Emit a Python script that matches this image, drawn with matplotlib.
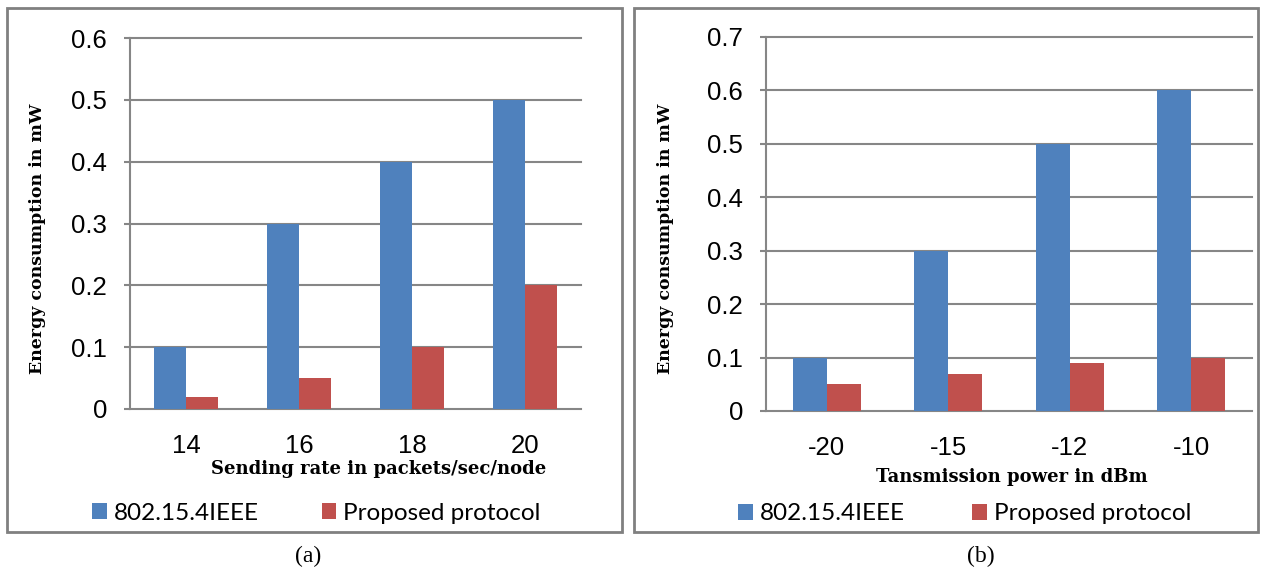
import matplotlib
matplotlib.use("Agg")
import matplotlib.pyplot as plt
import matplotlib.patches as patches
import numpy as np

# data
rate_labels = ["14", "16", "18", "20"]
rate_ieee = [0.1, 0.3, 0.4, 0.5]
rate_proposed = [0.02, 0.05, 0.1, 0.2]

power_labels = ["-20", "-15", "-12", "-10"]
power_ieee = [0.1, 0.3, 0.5, 0.6]
power_proposed = [0.05, 0.07, 0.09, 0.1]

series_names = ["802.15.4IEEE", "Proposed protocol"]
blue = "#4F81BD"
red = "#C0504D"
grid_col = "#868686"

W, H = 1265, 569
fig = plt.figure(figsize=(W / 100, H / 100), dpi=100)
fig.patch.set_facecolor("white")


def px(x, y):
    return x / W, 1 - y / H


def make_panel(rect, labels, ieee, proposed, ymax, width, xlabel, xlab_pos, ylab_pos,
               leg_pos, colspace, caption, cap_pos, box):
    ax = fig.add_axes(rect)
    x = np.arange(len(labels))
    b1 = ax.bar(x - width / 2, ieee, width, color=blue, label=series_names[0])
    b2 = ax.bar(x + width / 2, proposed, width, color=red, label=series_names[1])
    ax.set_xlim(-0.5, len(labels) - 0.5)
    ax.set_ylim(0, ymax)
    ticks = np.round(np.arange(0, ymax + 0.05, 0.1), 1)
    ax.set_yticks(ticks)
    ax.set_yticklabels(["0"] + [f"{v:.1f}" for v in ticks[1:]])
    ax.set_xticks(x)
    ax.set_xticklabels(labels)
    for s in ["top", "right", "bottom"]:
        ax.spines[s].set_visible(False)
    ax.spines["left"].set_color(grid_col)
    ax.spines["left"].set_linewidth(1.5)
    ax.yaxis.grid(True, color=grid_col, linewidth=1.5)
    ax.set_axisbelow(True)
    for gl in ax.get_ygridlines():
        gl.set_clip_on(False)
    ax.tick_params(axis="y", length=4.5, width=1.5, color=grid_col, pad=12,
                   labelsize=18.5)
    ax.tick_params(axis="x", length=0, pad=18, labelsize=18.5)
    for t in ax.get_xticklabels() + ax.get_yticklabels():
        t.set_fontfamily("Liberation Sans")

    fig.text(*px(*xlab_pos), xlabel, ha="center", va="center", fontsize=13,
             fontweight="bold", family="DejaVu Serif")
    fig.text(*px(*ylab_pos), "Energy consumption in mW", ha="center", va="center",
             rotation=90, fontsize=12.5, fontweight="bold", family="DejaVu Serif")
    fig.legend(handles=[b1, b2], loc="center left", bbox_to_anchor=px(*leg_pos),
               ncol=2, frameon=False, borderpad=0, borderaxespad=0,
               handlelength=0.6, handleheight=0.6, handletextpad=0.28,
               columnspacing=colspace, prop={"family": "Lato", "size": 17.5})
    fig.text(*px(*cap_pos), caption, ha="center", va="center", fontsize=17,
             family="Liberation Serif")
    x0, y0, x1, y1 = box
    fig.patches.append(patches.Rectangle(px(x0, y1), (x1 - x0) / W, (y1 - y0) / H,
                                         transform=fig.transFigure, fill=False,
                                         edgecolor="#808080", linewidth=2))
    return ax


make_panel([130 / W, 1 - 409 / H, 451 / W, 371 / H], rate_labels, rate_ieee,
           rate_proposed, 0.6, 0.284, "Sending rate in packets/sec/node",
           (379, 469), (38, 239), (92, 513), 2.6, "(a)", (308, 556), (7, 8, 622, 532))

make_panel([766 / W, 1 - 411 / H, 486 / W, 374 / H], power_labels, power_ieee,
           power_proposed, 0.7, 0.28, "Tansmission power in dBm",
           (1012, 477), (666, 239), (738, 514), 2.8, "(b)", (981, 556), (634, 8, 1258, 532))

fig.savefig("out.png", dpi=100)
